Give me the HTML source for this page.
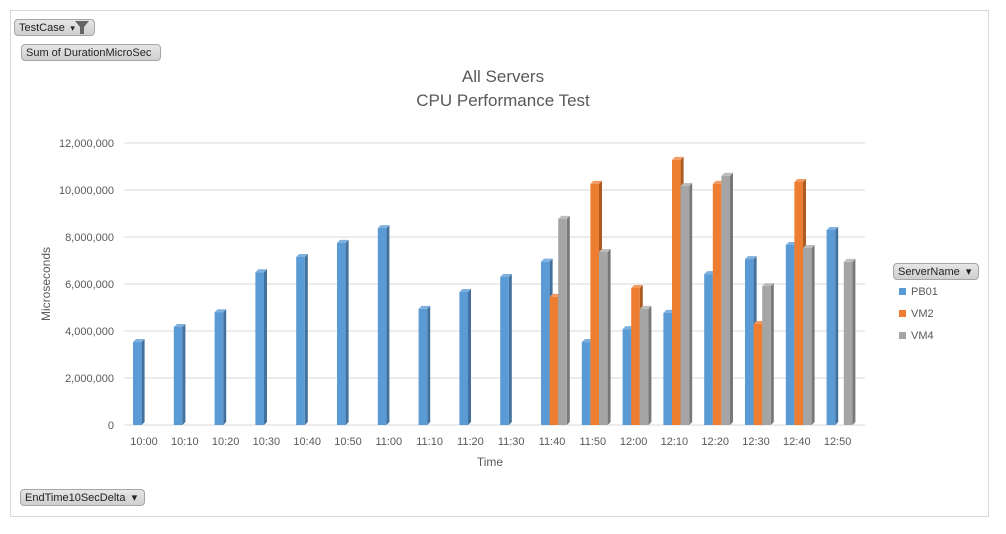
<!DOCTYPE html>
<html><head><meta charset="utf-8"><style>
body{margin:0;background:#fff;font-family:"Liberation Sans",sans-serif;}
.btn{position:absolute;background:linear-gradient(#e6e6e6,#cfcfcf);border:1px solid #a6a6a6;border-radius:4px;font-size:11px;color:#222;padding:1px 4px;box-sizing:border-box;height:17px;line-height:14px;white-space:nowrap}
</style></head><body>
<div style="position:absolute;left:10px;top:10px;width:977px;height:505px;border:1px solid #d9d9d9;"></div>
<div class="btn" style="left:14px;top:19px;width:81px;">TestCase <span style="font-size:9px">&nbsp;▾</span><svg style="position:absolute;right:5px;top:1px" width="14" height="13"><polygon points="0,0 14,0 9,6 9,13 5,13 5,6" fill="#666"/></svg></div>
<div class="btn" style="left:21px;top:44px;width:140px;">Sum of DurationMicroSec</div>
<div class="btn" style="left:20px;top:489px;width:125px;">EndTime10SecDelta &nbsp;▾</div>
<div class="btn" style="left:893px;top:263px;width:86px;">ServerName &nbsp;▾</div>
<svg id="chart" width="1006" height="534" style="position:absolute;left:0;top:0" font-family="Liberation Sans, sans-serif">
<text x="503" y="82" text-anchor="middle" font-size="17" fill="#595959">All Servers</text>
<text x="503" y="106" text-anchor="middle" font-size="17" fill="#595959">CPU Performance Test</text>
<text x="490" y="466" text-anchor="middle" font-size="12" fill="#595959">Time</text>
<text transform="translate(50,284) rotate(-90)" text-anchor="middle" font-size="12" fill="#595959">Microseconds</text>
<g id="grid"></g><g id="bars"></g><g id="legend"></g>
</svg>
<script>
const categories=["10:00","10:10","10:20","10:30","10:40","10:50","11:00","11:10","11:20","11:30","11:40","11:50","12:00","12:10","12:20","12:30","12:40","12:50"];
const seriesNames=["PB01","VM2","VM4"];
const pb01=[3.53,4.17,4.8,6.5,7.15,7.75,8.38,4.94,5.66,6.3,6.95,3.53,4.08,4.77,6.42,7.06,7.66,8.3];
const vm2=[null,null,null,null,null,null,null,null,null,null,5.45,10.26,5.83,11.28,10.26,4.3,10.34,null];
const vm4=[null,null,null,null,null,null,null,null,null,null,8.77,7.36,4.94,10.17,10.6,5.91,7.53,6.94];
const yTicks=[0,2,4,6,8,10,12];
const yTickLabels=["0","2,000,000","4,000,000","6,000,000","8,000,000","10,000,000","12,000,000"];
const NS="http://www.w3.org/2000/svg";
const x0=123.6,slot=40.8,yBase=425,pxPerM=23.5;
const xC=i=>x0+slot*(i+0.5);
const yS=v=>yBase-v*pxPerM;
function mk(t,a,p){const e=document.createElementNS(NS,t);for(const k in a)e.setAttribute(k,a[k]);p.appendChild(e);return e;}
const grid=document.getElementById('grid');
yTicks.forEach((t,i)=>{
 const g=mk('line',{x1:124,x2:865,y1:yS(t),y2:yS(t),stroke:'#d9d9d9','stroke-width':1},grid);
 
 
 const l=mk('text',{x:114,y:yS(t)+4,'text-anchor':'end','font-size':11,fill:'#595959'},grid);
 l.textContent=yTickLabels[i];
 
 
});
categories.forEach((c,i)=>{
 const l=mk('text',{x:xC(i),y:445,'text-anchor':'middle','font-size':11,fill:'#595959'},grid);
 l.textContent=c;
 
 
});
const cols=[["#5b9bd5","#41719c","#7fb0de"],["#ed7d31","#ae5a21","#f29a5f"],["#a5a5a5","#787878","#bdbdbd"]];
const data=[pb01,vm2,vm4];
const bars=document.getElementById('bars');
const bw=8.6,d=3;
data.forEach((s,si)=>{
 s.forEach((v,i)=>{
  if(v==null)return;
  const x=xC(i)-11+si*bw,y=yS(v);
  const g=mk('g',{},bars);
  
  
  mk('polygon',{points:`${x+bw},${y} ${x+bw+d},${y-d} ${x+bw+d},${yBase-d} ${x+bw},${yBase}`,fill:cols[si][1]},g);
  mk('polygon',{points:`${x},${y} ${x+d},${y-d} ${x+bw+d},${y-d} ${x+bw},${y}`,fill:cols[si][2]},g);
  mk('rect',{x:x,y:y,width:bw,height:yBase-y,fill:cols[si][0]},g);
 });
});
const lg=document.getElementById('legend');
seriesNames.forEach((n,i)=>{
 const g=mk('g',{},lg);
 
 
 mk('rect',{x:899,y:288+i*22,width:7,height:7,fill:cols[i][0]},g);
 const t=mk('text',{x:911,y:295+i*22,'font-size':11,fill:'#595959'},g);
 t.textContent=n;
});
</script>
</body></html>
